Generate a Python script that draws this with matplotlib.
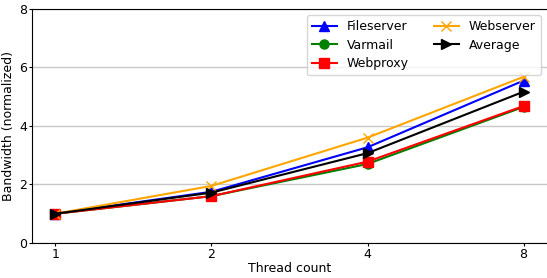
import matplotlib
matplotlib.use("Agg")
import matplotlib.pyplot as plt

plt.rcParams["font.size"] = 9

threads = ["1", "2", "4", "8"]
fileserver = [1.0, 1.75, 3.27, 5.55]
varmail = [1.0, 1.6, 2.7, 4.65]
webproxy = [1.0, 1.6, 2.78, 4.68]
webserver = [1.0, 1.95, 3.6, 5.68]
average = [1.0, 1.72, 3.07, 5.17]

fig = plt.figure(figsize=(5.47, 2.78), dpi=100)
ax = fig.add_axes([0.0585, 0.126, 0.9415, 0.842])
x = list(range(len(threads)))
ms = 6.5
ax.plot(x, fileserver, color="blue", marker="^", markersize=ms, label="Fileserver")
ax.plot(x, varmail, color="green", marker="o", markersize=ms, label="Varmail")
ax.plot(x, webproxy, color="red", marker="s", markersize=ms, label="Webproxy")
ax.plot(x, webserver, color="orange", marker="x", markersize=ms, label="Webserver")
ax.plot(x, average, color="black", marker=">", markersize=ms, label="Average")

ax.set_xticks(x)
ax.set_xticklabels(threads)
ax.set_ylim(0, 8)
ax.set_yticks([0, 2, 4, 6, 8])
ax.tick_params(length=2, pad=1.5)
ax.yaxis.grid(True, color="#c8c8c8", linewidth=1)
ax.set_axisbelow(True)
ax.spines["right"].set_visible(False)
ax.set_xlabel("Thread count", labelpad=1)
ax.set_ylabel("Bandwidth (normalized)", labelpad=3)
ax.legend(ncol=2, loc="upper right", bbox_to_anchor=(1.0, 1.0), labelspacing=0.45)
fig.savefig("out.png", dpi=100)
